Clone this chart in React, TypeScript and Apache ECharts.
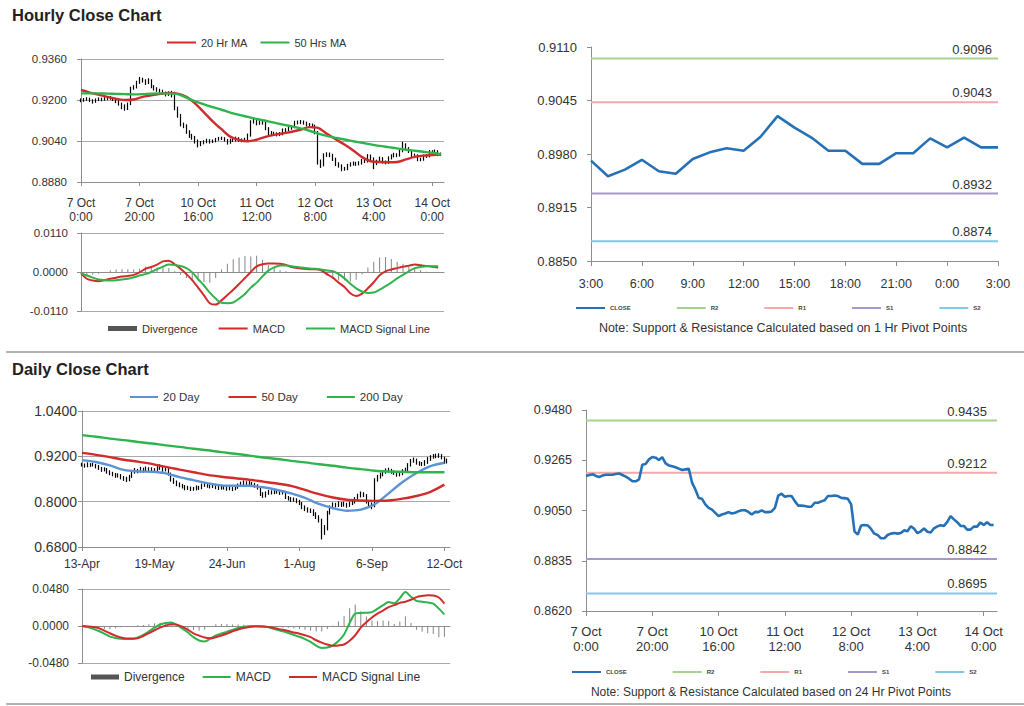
import React, { useEffect, useRef } from "react";
import * as echarts from "echarts";

// ---------------- Hourly data (7 Oct 0:00 -> 14 Oct 3:00, one bar per trading hour) ----------------
const hourlyTickLabels = ["7 Oct\n0:00", "7 Oct\n20:00", "10 Oct\n16:00", "11 Oct\n12:00", "12 Oct\n8:00", "13 Oct\n4:00", "14 Oct\n0:00"];

const hourlyClose = [
  0.9198, 0.9202, 0.9205, 0.9198, 0.9193, 0.92, 0.9203, 0.9203, 0.9203, 0.9206,
  0.9208, 0.9202, 0.9195, 0.9186, 0.9175, 0.9175, 0.9183, 0.9246, 0.9249, 0.9269,
  0.9279, 0.9276, 0.9266, 0.9278, 0.9252, 0.9243, 0.9239, 0.9235, 0.9229, 0.9223,
  0.9226, 0.9229, 0.9169, 0.914, 0.9104, 0.91, 0.9076, 0.9061, 0.9054, 0.904,
  0.9026, 0.9033, 0.9037, 0.9043, 0.9037, 0.904, 0.9047, 0.9051, 0.9051, 0.9044,
  0.9033, 0.9044, 0.9043, 0.9051, 0.9043, 0.9043, 0.9046, 0.9061, 0.9114, 0.9122,
  0.9109, 0.9112, 0.9112, 0.909, 0.9071, 0.9071, 0.9069, 0.9066, 0.9066, 0.9083,
  0.9083, 0.9089, 0.9094, 0.9112, 0.9112, 0.9114, 0.9112, 0.9104, 0.9103, 0.91,
  0.9076, 0.8961, 0.8947, 0.8986, 0.8988, 0.8986, 0.8971, 0.8951, 0.8945, 0.8931,
  0.8931, 0.8945, 0.8951, 0.8954, 0.8951, 0.8954, 0.8965, 0.8961, 0.8983, 0.8972,
  0.8953, 0.8961, 0.8973, 0.8959, 0.8956, 0.8974, 0.8982, 0.8987, 0.8984, 0.9001,
  0.9026, 0.9012, 0.9, 0.8984, 0.8984, 0.8968, 0.8968, 0.8981, 0.8981, 0.8999,
  0.8988, 0.9, 0.8988, 0.8988,
];
const hourlyHigh = [
  0.9206, 0.9208, 0.9211, 0.9209, 0.9203, 0.9206, 0.921, 0.9209, 0.9211, 0.9213,
  0.9215, 0.9212, 0.9206, 0.9199, 0.919, 0.9183, 0.919, 0.9252, 0.9258, 0.9275,
  0.929, 0.9287, 0.9281, 0.9285, 0.9281, 0.9258, 0.925, 0.9244, 0.924, 0.9233,
  0.9234, 0.9236, 0.9232, 0.9174, 0.9146, 0.9112, 0.9105, 0.9082, 0.9068, 0.906,
  0.9046, 0.904, 0.9043, 0.9049, 0.9047, 0.9046, 0.9052, 0.9056, 0.9057, 0.9055,
  0.9048, 0.9049, 0.905, 0.9057, 0.9055, 0.905, 0.9053, 0.9069, 0.9121, 0.9131,
  0.9127, 0.912, 0.9119, 0.9116, 0.9094, 0.9079, 0.9076, 0.9074, 0.9075, 0.9089,
  0.909, 0.9095, 0.9101, 0.9119, 0.912, 0.9122, 0.912, 0.9116, 0.911, 0.9108,
  0.9104, 0.9079, 0.8968, 0.8992, 0.8996, 0.8995, 0.899, 0.8975, 0.8957, 0.8949,
  0.8939, 0.8951, 0.8957, 0.896, 0.8959, 0.8961, 0.897, 0.8971, 0.8989, 0.8987,
  0.8976, 0.8967, 0.8979, 0.8977, 0.8964, 0.898, 0.8988, 0.8994, 0.8992, 0.9008,
  0.9037, 0.9031, 0.9016, 0.9004, 0.8991, 0.8988, 0.8975, 0.8987, 0.8988, 0.9005,
  0.9004, 0.9007, 0.9004, 0.8995,
];
const hourlyLow = [
  0.9191, 0.9193, 0.9197, 0.9192, 0.9186, 0.9189, 0.9196, 0.9195, 0.9197, 0.9199,
  0.9201, 0.9196, 0.9188, 0.9178, 0.9164, 0.9158, 0.9161, 0.918, 0.924, 0.9245,
  0.9263, 0.9268, 0.9259, 0.9262, 0.9246, 0.9237, 0.9232, 0.9228, 0.922, 0.9214,
  0.9216, 0.921, 0.916, 0.9131, 0.9097, 0.909, 0.9068, 0.9052, 0.9045, 0.903,
  0.9015, 0.902, 0.9027, 0.9031, 0.903, 0.9032, 0.9035, 0.9041, 0.9044, 0.9038,
  0.9026, 0.9029, 0.9036, 0.9038, 0.9037, 0.9035, 0.9038, 0.9041, 0.9057, 0.9108,
  0.9101, 0.9103, 0.9104, 0.9082, 0.9062, 0.9063, 0.906, 0.9058, 0.9059, 0.9062,
  0.9075, 0.9078, 0.9084, 0.909, 0.9105, 0.9106, 0.9104, 0.9097, 0.9095, 0.909,
  0.9066, 0.8948, 0.8935, 0.8941, 0.8978, 0.8977, 0.8962, 0.8942, 0.8936, 0.8922,
  0.8924, 0.8926, 0.894, 0.8944, 0.8943, 0.8945, 0.8948, 0.8954, 0.8956, 0.8965,
  0.893, 0.8946, 0.8955, 0.8952, 0.8949, 0.8951, 0.8968, 0.8976, 0.8977, 0.8979,
  0.8996, 0.9005, 0.8993, 0.8977, 0.8976, 0.8961, 0.8961, 0.8963, 0.8974, 0.8976,
  0.8982, 0.8983, 0.8981, 0.8981,
];

// moving averages read every 3 hours
const hourlyMaStep = 3;
const hourlyMa20 = [
  0.9239, 0.9229, 0.9221, 0.9212, 0.9205, 0.92, 0.9202, 0.9212, 0.9218, 0.9224,
  0.9228, 0.9225, 0.9213, 0.9186, 0.9152, 0.9117, 0.9086, 0.9057, 0.9044, 0.9039,
  0.9045, 0.9056, 0.9064, 0.907, 0.9076, 0.9084, 0.9094, 0.9091, 0.9068, 0.9047,
  0.9026, 0.9003, 0.8977, 0.8961, 0.8958, 0.8957, 0.8958, 0.8968, 0.8978, 0.8983,
  0.8985, 0.8987,
];
const hourlyMa50 = [
  0.9226, 0.9226, 0.9226, 0.9225, 0.9224, 0.9223, 0.9222, 0.9223, 0.9225, 0.9226,
  0.9225, 0.9223, 0.9209, 0.9195, 0.9183, 0.9172, 0.9162, 0.9151, 0.9142, 0.9134,
  0.9126, 0.9119, 0.9112, 0.9104, 0.9097, 0.9089, 0.908, 0.9069, 0.906, 0.9052,
  0.9046, 0.9039, 0.9033, 0.9027, 0.9021, 0.9016, 0.9011, 0.9006, 0.9002, 0.8998,
  0.8994, 0.8988,
];

// MACD read every 2 hours
const hourlyMacdStep = 2;
const hourlyMacd = [
  -0.0003, -0.0019, -0.0024, -0.0026, -0.0023, -0.0019, -0.0016, -0.0013, -0.0011, -0.0008,
  -0.0001, 0.0009, 0.0014, 0.0021, 0.003, 0.0032, 0.0022, 0.0009, -0.0006, -0.0023,
  -0.0044, -0.0066, -0.0088, -0.0092, -0.008, -0.0065, -0.005, -0.0034, -0.0017, 0.0,
  0.0016, 0.0022, 0.0024, 0.0024, 0.0023, 0.002, 0.0014, 0.0011, 0.0009, 0.0008,
  0.0008, 0.0005, -0.0006, -0.0016, -0.003, -0.0042, -0.006, -0.0068, -0.0061, -0.0046,
  -0.0029, -0.0009, 0.0002, 0.0007, 0.0011, 0.0015, 0.0018, 0.0021, 0.0019, 0.0017,
  0.0015, 0.0013,
];
const hourlySignal = [
  -0.0003, -0.001, -0.0016, -0.0021, -0.0023, -0.0024, -0.0023, -0.0021, -0.0019, -0.0015,
  -0.001, -0.0006, 0.0, 0.0008, 0.0015, 0.0021, 0.002, 0.0017, 0.0011, -0.0001,
  -0.002, -0.0038, -0.0058, -0.0075, -0.0087, -0.0088, -0.0086, -0.0075, -0.0062, -0.0044,
  -0.003, -0.0012, 0.0004, 0.0013, 0.0018, 0.0018, 0.0016, 0.0014, 0.0012, 0.001,
  0.0009, 0.0007, 0.0004, 0.0002, -0.0006, -0.0018, -0.0033, -0.0046, -0.0055, -0.0059,
  -0.0058, -0.005, -0.004, -0.003, -0.0018, -0.0008, 0.0002, 0.0011, 0.0014, 0.0016,
  0.0016, 0.0016,
];

// ---------------- 1 hour pivot chart (13 Oct 3:00 -> 14 Oct 3:00) ----------------
const pivotHourLabels = [
  "3:00", "4:00", "5:00", "6:00", "7:00", "8:00", "9:00", "10:00", "11:00", "12:00",
  "13:00", "14:00", "15:00", "16:00", "17:00", "18:00", "19:00", "20:00", "21:00", "22:00",
  "23:00", "0:00", "1:00", "2:00", "3:00",
];
const pivot1hClose = [
  0.8972, 0.8953, 0.8961, 0.8973, 0.8959, 0.8956, 0.8974, 0.8982, 0.8987, 0.8984,
  0.9001, 0.9026, 0.9012, 0.9, 0.8984, 0.8984, 0.8968, 0.8968, 0.8981, 0.8981,
  0.8999, 0.8988, 0.9, 0.8988, 0.8988,
];
const pivotLevelNames = ["R2", "R1", "S1", "S2"];
const pivot1hLevels = [0.9096, 0.9043, 0.8932, 0.8874];
const pivot24hLevels = [0.9435, 0.9212, 0.8842, 0.8695];

// ---------------- Daily data (13 Apr -> 13 Oct, one bar per trading day) ----------------
const dailyTickLabels = ["13-Apr", "19-May", "24-Jun", "1-Aug", "6-Sep", "12-Oct"];
const dailyClose = [
  0.897, 0.894, 0.899, 0.896, 0.898, 0.893, 0.889, 0.884, 0.886, 0.879,
  0.875, 0.872, 0.868, 0.87, 0.864, 0.861, 0.857, 0.866, 0.878, 0.883,
  0.88, 0.886, 0.882, 0.887, 0.884, 0.885, 0.881, 0.888, 0.892, 0.884,
  0.887, 0.874, 0.858, 0.852, 0.846, 0.843, 0.84, 0.835, 0.837, 0.833,
  0.834, 0.838, 0.836, 0.843, 0.846, 0.842, 0.84, 0.844, 0.838, 0.836,
  0.84, 0.837, 0.834, 0.836, 0.833, 0.838, 0.843, 0.848, 0.851, 0.846,
  0.85, 0.847, 0.842, 0.838, 0.821, 0.815, 0.822, 0.826, 0.824, 0.829,
  0.826, 0.823, 0.825, 0.812, 0.808, 0.804, 0.806, 0.801, 0.797, 0.786,
  0.78, 0.776, 0.777, 0.768, 0.76, 0.752, 0.72, 0.728, 0.77, 0.785,
  0.793, 0.79, 0.796, 0.791, 0.794, 0.789, 0.795, 0.798, 0.806, 0.815,
  0.821, 0.818, 0.8, 0.795, 0.788, 0.858, 0.866, 0.871, 0.878, 0.882,
  0.884, 0.879, 0.876, 0.871, 0.874, 0.881, 0.884, 0.897, 0.908, 0.911,
  0.903, 0.9, 0.899, 0.904, 0.912, 0.918, 0.92, 0.921, 0.923, 0.917,
  0.905, 0.909,
];
const dailyHigh = [
  0.903, 0.901, 0.904, 0.902, 0.903, 0.9, 0.897, 0.892, 0.891, 0.889,
  0.883, 0.879, 0.876, 0.875, 0.873, 0.868, 0.866, 0.871, 0.883, 0.889,
  0.887, 0.892, 0.89, 0.893, 0.891, 0.891, 0.889, 0.894, 0.899, 0.895,
  0.893, 0.889, 0.877, 0.863, 0.856, 0.851, 0.847, 0.844, 0.842, 0.84,
  0.839, 0.843, 0.842, 0.848, 0.851, 0.849, 0.846, 0.849, 0.847, 0.842,
  0.845, 0.843, 0.841, 0.841, 0.839, 0.843, 0.848, 0.853, 0.856, 0.854,
  0.855, 0.852, 0.85, 0.846, 0.841, 0.825, 0.827, 0.831, 0.83, 0.834,
  0.832, 0.829, 0.83, 0.827, 0.815, 0.812, 0.811, 0.809, 0.805, 0.799,
  0.79, 0.785, 0.782, 0.78, 0.772, 0.764, 0.755, 0.738, 0.776, 0.79,
  0.798, 0.797, 0.801, 0.799, 0.8, 0.797, 0.8, 0.804, 0.812, 0.821,
  0.827, 0.825, 0.82, 0.804, 0.798, 0.862, 0.871, 0.877, 0.884, 0.888,
  0.89, 0.887, 0.883, 0.88, 0.879, 0.886, 0.89, 0.902, 0.913, 0.917,
  0.914, 0.907, 0.905, 0.91, 0.918, 0.923, 0.926, 0.927, 0.928, 0.926,
  0.919, 0.914,
];
const dailyLow = [
  0.893, 0.89, 0.891, 0.892, 0.893, 0.888, 0.884, 0.879, 0.88, 0.874,
  0.87, 0.867, 0.863, 0.864, 0.859, 0.855, 0.852, 0.854, 0.863, 0.874,
  0.875, 0.877, 0.877, 0.879, 0.879, 0.88, 0.876, 0.878, 0.884, 0.879,
  0.88, 0.869, 0.853, 0.847, 0.841, 0.838, 0.835, 0.83, 0.831, 0.828,
  0.829, 0.83, 0.831, 0.833, 0.839, 0.837, 0.835, 0.836, 0.833, 0.831,
  0.832, 0.832, 0.829, 0.83, 0.828, 0.83, 0.834, 0.839, 0.843, 0.841,
  0.842, 0.842, 0.837, 0.832, 0.815, 0.81, 0.811, 0.818, 0.819, 0.82,
  0.821, 0.818, 0.819, 0.807, 0.803, 0.799, 0.8, 0.796, 0.791, 0.78,
  0.775, 0.771, 0.77, 0.762, 0.754, 0.745, 0.7, 0.712, 0.724, 0.766,
  0.78, 0.785, 0.786, 0.786, 0.787, 0.784, 0.786, 0.791, 0.795, 0.802,
  0.811, 0.812, 0.795, 0.788, 0.78, 0.785, 0.853, 0.861, 0.867, 0.874,
  0.877, 0.874, 0.871, 0.866, 0.867, 0.87, 0.877, 0.881, 0.893, 0.903,
  0.898, 0.895, 0.894, 0.895, 0.9, 0.908, 0.914, 0.915, 0.916, 0.912,
  0.9, 0.901,
];

// moving averages read every 5 days
const dailyMaStep = 5;
const dailyMa20 = [
  0.91, 0.905, 0.896, 0.884, 0.88, 0.879, 0.875, 0.865, 0.857, 0.849,
  0.843, 0.842, 0.842, 0.838, 0.831, 0.822, 0.81, 0.794, 0.783, 0.776,
  0.779, 0.793, 0.822, 0.852, 0.876, 0.894, 0.903,
];
const dailyMa50 = [
  0.929, 0.924, 0.918, 0.911, 0.906, 0.9, 0.892, 0.885, 0.878, 0.871,
  0.866, 0.862, 0.858, 0.853, 0.848, 0.842, 0.831, 0.82, 0.811, 0.805,
  0.803, 0.802, 0.803, 0.808, 0.815, 0.826, 0.845,
];
const dailyMa200 = [
  0.976, 0.972, 0.967, 0.963, 0.958, 0.954, 0.949, 0.945, 0.94, 0.936,
  0.931, 0.927, 0.922, 0.917, 0.913, 0.908, 0.904, 0.899, 0.895, 0.89,
  0.886, 0.882, 0.88, 0.879, 0.878, 0.878, 0.878,
];

// MACD read every 2 days
const dailyMacdStep = 2;
const dailyMacd = [
  0.0, -0.0015, -0.0038, -0.0065, -0.01, -0.0137, -0.0155, -0.0167, -0.017, -0.017,
  -0.0148, -0.0116, -0.007, -0.0022, 0.002, 0.004, 0.0045, 0.0013, -0.0035, -0.0085,
  -0.0145, -0.0188, -0.02, -0.0165, -0.0122, -0.0098, -0.0073, -0.005, -0.0025, -0.001,
  -0.0003, 0.0, -0.0002, -0.0008, -0.003, -0.005, -0.0068, -0.009, -0.0116, -0.014,
  -0.017, -0.0205, -0.0255, -0.0285, -0.028, -0.025, -0.0195, -0.011, 0.004, 0.016,
  0.017, 0.0172, 0.018, 0.0225, 0.027, 0.031, 0.0295, 0.036, 0.044, 0.038,
  0.0325, 0.0315, 0.0305, 0.029, 0.0225, 0.015,
];
const dailySignal = [
  0.0, -0.0005, -0.0012, -0.0028, -0.006, -0.0094, -0.0125, -0.015, -0.0162, -0.0162,
  -0.0158, -0.013, -0.0093, -0.0055, -0.0022, 0.0005, 0.0022, 0.0018, -0.001, -0.005,
  -0.0095, -0.0125, -0.015, -0.016, -0.0145, -0.0123, -0.0098, -0.0068, -0.0045, -0.0025,
  -0.0012, -0.0008, -0.0008, -0.0009, -0.002, -0.0035, -0.0049, -0.0066, -0.0085, -0.01,
  -0.012, -0.0145, -0.0185, -0.0215, -0.024, -0.0255, -0.0252, -0.024, -0.019, -0.012,
  -0.002, 0.005, 0.011, 0.016, 0.02, 0.0245, 0.027, 0.03, 0.0315, 0.034,
  0.0375, 0.039, 0.04, 0.0395, 0.037, 0.029,
];

// ---------------- helpers ----------------
const HOUR_SLOTS = 125;
const DAY_SLOTS = 133;
const HOUR_TICK_EVERY = 20;
const DAY_TICK_EVERY = 26;

const F = '"Liberation Sans", Arial, Helvetica, sans-serif';
const AXIS = "#8e8e8e";
const GRID = "#a9a9a9";
const LABEL = "#333333";
const RED = "#d12b2b";
const GREEN = "#2fb34c";
const BLUE20 = "#5b93d4";
const CLOSE_BLUE = "#2671b6";
const LEVEL_COLORS = ["#a9d18e", "#f2a9a9", "#a797cb", "#80c9e7"];
const DIV_GRAY = "#858585";

const hourCats = Array.from({ length: HOUR_SLOTS }, (_, i) => String(i));
const dayCats = Array.from({ length: DAY_SLOTS }, (_, i) => String(i));

// open = previous close; [open, close, low, high]
const ohlc = (closes: number[], lows: number[], highs: number[]) =>
  closes.map((c, i) => [i > 0 ? closes[i - 1] : c, c, lows[i], highs[i]]);
const stepped = (vals: number[], step: number) => vals.map((v, k) => [k * step, v]);
const divergence = (m: number[], s: number[], step: number) =>
  m.map((v, k) => [k * step, Math.round((v - s[k]) * 100000) / 100000]);

const legendNames: Record<string, string> = {
  hDiv: "Divergence", hMACD: "MACD", hSig: "MACD Signal Line",
  dDiv: "Divergence", dMACD: "MACD", dSig: "MACD Signal Line",
  aCLOSE: "CLOSE", aR2: "R2", aR1: "R1", aS1: "S1", aS2: "S2",
  bCLOSE: "CLOSE", bR2: "R2", bR1: "R1", bS1: "S1", bS2: "S2",
};
const legendFmt = (n: string) => legendNames[n] ?? n;

function yAxis(gridIndex: number, min: number, max: number, interval: number, fontSize: number, margin: number, split: boolean) {
  return {
    type: "value", gridIndex, min, max, interval,
    axisLine: { show: true, lineStyle: { color: AXIS, width: 1 } },
    axisTick: { show: true, length: 4, lineStyle: { color: AXIS } },
    axisLabel: { formatter: (v: number) => v.toFixed(4), color: LABEL, fontSize, fontFamily: F, margin },
    splitLine: { show: split, lineStyle: { color: GRID, width: 1 } },
  };
}

function levelSeries(prefix: string, idx: number, value: number, n: number, axis: number, rightPad: number) {
  const color = LEVEL_COLORS[idx];
  return {
    type: "line", name: prefix + pivotLevelNames[idx], xAxisIndex: axis, yAxisIndex: axis,
    symbol: "circle", symbolSize: 0, showSymbol: true, showAllSymbol: true, clip: false,
    lineStyle: { color, width: 2 }, itemStyle: { color },
    silent: true,
    data: Array.from({ length: n }, (_, i) =>
      i === n - 1
        ? {
            value,
            label: {
              show: true, position: "top", align: "right", distance: 3, offset: [-rightPad, 0],
              formatter: value.toFixed(4), color: LABEL, fontSize: 13, fontFamily: F,
            },
          }
        : value
    ),
  };
}

const candleStyle = { color: "#000", color0: "#000", borderColor: "#000", borderColor0: "#000", borderWidth: 1.2 };

function buildOption(): any {
  const tinyLegend = (left: number, top: number, prefix: string) => ({
    left, top, padding: 0, itemWidth: 29, itemHeight: 6, itemGap: 45,
    formatter: legendFmt,
    itemStyle: { opacity: 0 },
    textStyle: { fontSize: 6, color: "#444", fontFamily: F, fontWeight: "bold" },
    data: ["CLOSE", "R2", "R1", "S1", "S2"].map((s) => prefix + s),
  });

  return {
    animation: false,
    backgroundColor: "#ffffff",
    textStyle: { fontFamily: F },
    grid: [
      { left: 81, top: 59, width: 363, height: 123 },
      { left: 81, top: 233, width: 363, height: 78 },
      { left: 591, top: 47, width: 407, height: 214 },
      { left: 82, top: 411, width: 368, height: 136 },
      { left: 82, top: 589, width: 368, height: 74 },
      { left: 586, top: 410, width: 411, height: 201 },
    ],
    legend: [
      {
        left: 166, top: 37, padding: 0, itemWidth: 29, itemHeight: 10, itemGap: 12,
        itemStyle: { opacity: 0 },
        textStyle: { fontSize: 11, color: LABEL, fontFamily: F },
        data: ["20 Hr MA", "50 Hrs MA"],
      },
      {
        left: 108, top: 323, padding: 0, itemWidth: 29, itemHeight: 5, itemGap: 20,
        itemStyle: { opacity: 0 }, formatter: legendFmt,
        textStyle: { fontSize: 11, color: LABEL, fontFamily: F },
        data: [{ name: "hDiv", icon: "rect", itemStyle: { opacity: 1, color: "#555555" } }, "hMACD", "hSig"],
      },
      tinyLegend(575, 305, "a"),
      {
        left: 129, top: 391, padding: 0, itemWidth: 28, itemHeight: 10, itemGap: 28,
        itemStyle: { opacity: 0 },
        textStyle: { fontSize: 11.5, color: LABEL, fontFamily: F },
        data: ["20 Day", "50 Day", "200 Day"],
      },
      {
        left: 91, top: 671, padding: 0, itemWidth: 28, itemHeight: 5, itemGap: 17,
        itemStyle: { opacity: 0 }, formatter: legendFmt,
        textStyle: { fontSize: 12, color: LABEL, fontFamily: F },
        data: [{ name: "dDiv", icon: "rect", itemStyle: { opacity: 1, color: "#555555" } }, "dMACD", "dSig"],
      },
      tinyLegend(571, 669, "b"),
    ],
    xAxis: [
      {
        type: "category", gridIndex: 0, data: hourCats, boundaryGap: false,
        axisLine: { show: true, lineStyle: { color: AXIS } },
        axisTick: { show: true, interval: HOUR_TICK_EVERY - 1, length: 4, lineStyle: { color: AXIS } },
        axisLabel: {
          interval: HOUR_TICK_EVERY - 1, color: LABEL, fontSize: 12, lineHeight: 14, margin: 14, fontFamily: F,
          formatter: (_v: string, i: number) => hourlyTickLabels[i / HOUR_TICK_EVERY] ?? "",
        },
        splitLine: { show: false },
      },
      {
        type: "category", gridIndex: 1, data: hourCats, boundaryGap: false,
        axisLine: { show: true, onZero: true, lineStyle: { color: AXIS } },
        axisTick: { show: false }, axisLabel: { show: false }, splitLine: { show: false },
      },
      {
        type: "category", gridIndex: 2, data: pivotHourLabels, boundaryGap: false,
        axisLine: { show: true, lineStyle: { color: AXIS } },
        axisTick: { show: true, interval: 2, length: 5, lineStyle: { color: AXIS } },
        axisLabel: { interval: 2, color: LABEL, fontSize: 12.5, margin: 16, fontFamily: F },
        splitLine: { show: false },
      },
      {
        type: "category", gridIndex: 3, data: dayCats, boundaryGap: false,
        axisLine: { show: true, lineStyle: { color: AXIS } },
        axisTick: { show: true, interval: DAY_TICK_EVERY - 1, length: 4, lineStyle: { color: AXIS } },
        axisLabel: {
          interval: DAY_TICK_EVERY - 1, color: LABEL, fontSize: 12, margin: 11, fontFamily: F,
          formatter: (_v: string, i: number) => dailyTickLabels[i / DAY_TICK_EVERY] ?? "",
        },
        splitLine: { show: false },
      },
      {
        type: "category", gridIndex: 4, data: dayCats, boundaryGap: false,
        axisLine: { show: true, onZero: true, lineStyle: { color: AXIS } },
        axisTick: { show: false }, axisLabel: { show: false }, splitLine: { show: false },
      },
      {
        type: "category", gridIndex: 5, data: hourCats, boundaryGap: false,
        axisLine: { show: true, lineStyle: { color: AXIS } },
        axisTick: { show: true, interval: HOUR_TICK_EVERY - 1, length: 5, lineStyle: { color: AXIS } },
        axisLabel: {
          interval: HOUR_TICK_EVERY - 1, color: LABEL, fontSize: 13, lineHeight: 15, margin: 13, fontFamily: F,
          formatter: (_v: string, i: number) => hourlyTickLabels[i / HOUR_TICK_EVERY] ?? "",
        },
        splitLine: { show: false },
      },
    ],
    yAxis: [
      yAxis(0, 0.888, 0.936, 0.016, 11.5, 14, true),
      yAxis(1, -0.011, 0.011, 0.011, 11.5, 13, true),
      yAxis(2, 0.885, 0.911, 0.0065, 13, 14, false),
      yAxis(3, 0.68, 1.04, 0.12, 14, 5, true),
      yAxis(4, -0.048, 0.048, 0.048, 12, 13, true),
      yAxis(5, 0.862, 0.948, 0.0215, 12.5, 14, false),
    ],
    series: [
      // ---- hourly price
      {
        type: "candlestick", name: "hourly", xAxisIndex: 0, yAxisIndex: 0, barWidth: 1.2,
        itemStyle: candleStyle,
        data: ohlc(hourlyClose, hourlyLow, hourlyHigh),
      },
      {
        type: "line", name: "20 Hr MA", xAxisIndex: 0, yAxisIndex: 0, symbol: "none", smooth: 0.3,
        lineStyle: { color: RED, width: 2.4 }, itemStyle: { color: RED },
        data: stepped(hourlyMa20, hourlyMaStep),
      },
      {
        type: "line", name: "50 Hrs MA", xAxisIndex: 0, yAxisIndex: 0, symbol: "none", smooth: 0.3,
        lineStyle: { color: GREEN, width: 2.4 }, itemStyle: { color: GREEN },
        data: stepped(hourlyMa50, hourlyMaStep),
      },
      // ---- hourly MACD
      {
        type: "bar", name: "hDiv", xAxisIndex: 1, yAxisIndex: 1, barWidth: 1,
        itemStyle: { color: DIV_GRAY },
        data: divergence(hourlyMacd, hourlySignal, hourlyMacdStep),
      },
      {
        type: "line", name: "hMACD", xAxisIndex: 1, yAxisIndex: 1, symbol: "none", smooth: 0.3,
        lineStyle: { color: RED, width: 2 }, itemStyle: { color: RED },
        data: stepped(hourlyMacd, hourlyMacdStep),
      },
      {
        type: "line", name: "hSig", xAxisIndex: 1, yAxisIndex: 1, symbol: "none", smooth: 0.3,
        lineStyle: { color: GREEN, width: 2 }, itemStyle: { color: GREEN },
        data: stepped(hourlySignal, hourlyMacdStep),
      },
      // ---- 1 hour pivot
      ...pivot1hLevels.map((v, k) => levelSeries("a", k, v, pivotHourLabels.length, 2, 6)),
      {
        type: "line", name: "aCLOSE", xAxisIndex: 2, yAxisIndex: 2, symbol: "none",
        lineStyle: { color: CLOSE_BLUE, width: 2.6 }, itemStyle: { color: CLOSE_BLUE },
        data: pivot1hClose,
      },
      // ---- daily price
      {
        type: "candlestick", name: "daily", xAxisIndex: 3, yAxisIndex: 3, barWidth: 1.2,
        itemStyle: candleStyle,
        data: ohlc(dailyClose, dailyLow, dailyHigh),
      },
      {
        type: "line", name: "20 Day", xAxisIndex: 3, yAxisIndex: 3, symbol: "none", smooth: 0.3,
        lineStyle: { color: BLUE20, width: 2.4 }, itemStyle: { color: BLUE20 },
        data: stepped(dailyMa20, dailyMaStep),
      },
      {
        type: "line", name: "50 Day", xAxisIndex: 3, yAxisIndex: 3, symbol: "none", smooth: 0.3,
        lineStyle: { color: RED, width: 2.4 }, itemStyle: { color: RED },
        data: stepped(dailyMa50, dailyMaStep),
      },
      {
        type: "line", name: "200 Day", xAxisIndex: 3, yAxisIndex: 3, symbol: "none", smooth: 0.3,
        lineStyle: { color: GREEN, width: 2.4 }, itemStyle: { color: GREEN },
        data: stepped(dailyMa200, dailyMaStep),
      },
      // ---- daily MACD
      {
        type: "bar", name: "dDiv", xAxisIndex: 4, yAxisIndex: 4, barWidth: 1,
        itemStyle: { color: DIV_GRAY },
        data: divergence(dailyMacd, dailySignal, dailyMacdStep),
      },
      {
        type: "line", name: "dMACD", xAxisIndex: 4, yAxisIndex: 4, symbol: "none", smooth: 0.3,
        lineStyle: { color: GREEN, width: 2 }, itemStyle: { color: GREEN },
        data: stepped(dailyMacd, dailyMacdStep),
      },
      {
        type: "line", name: "dSig", xAxisIndex: 4, yAxisIndex: 4, symbol: "none", smooth: 0.3,
        lineStyle: { color: RED, width: 2 }, itemStyle: { color: RED },
        data: stepped(dailySignal, dailyMacdStep),
      },
      // ---- 24 hour pivot
      ...pivot24hLevels.map((v, k) => levelSeries("b", k, v, HOUR_SLOTS, 5, 10)),
      {
        type: "line", name: "bCLOSE", xAxisIndex: 5, yAxisIndex: 5, symbol: "none",
        lineStyle: { color: CLOSE_BLUE, width: 2.6 }, itemStyle: { color: CLOSE_BLUE },
        data: hourlyClose,
      },
    ],
    graphic: [
      { type: "text", left: 12, top: 6, style: { text: "Hourly Close Chart", font: `bold 16.5px ${F}`, fill: "#222" } },
      { type: "text", left: 12, top: 360, style: { text: "Daily Close Chart", font: `bold 16.5px ${F}`, fill: "#222" } },
      { type: "line", shape: { x1: 6, y1: 352, x2: 1024, y2: 352 }, style: { stroke: "#b3b3b3", lineWidth: 2 } },
      { type: "line", shape: { x1: 6, y1: 704, x2: 1024, y2: 704 }, style: { stroke: "#b3b3b3", lineWidth: 2 } },
      {
        type: "text", x: 783, y: 328,
        style: { text: "Note: Support & Resistance Calculated based on 1 Hr Pivot Points", font: `12.5px ${F}`, fill: "#333", align: "center", verticalAlign: "middle" },
      },
      {
        type: "text", x: 771, y: 692,
        style: { text: "Note: Support & Resistance Calculated based on 24 Hr Pivot Points", font: `12px ${F}`, fill: "#333", align: "center", verticalAlign: "middle" },
      },
    ],
  };
}

export default function App() {
  const ref = useRef<HTMLDivElement>(null);
  useEffect(() => {
    if (!ref.current) return;
    const chart = echarts.init(ref.current, null, { renderer: "svg" });
    chart.setOption(buildOption());
    return () => chart.dispose();
  }, []);
  return (
    <div
      ref={ref}
      style={{ position: "absolute", left: 0, top: 0, width: 1024, height: 706, background: "#fff" }}
    />
  );
}
